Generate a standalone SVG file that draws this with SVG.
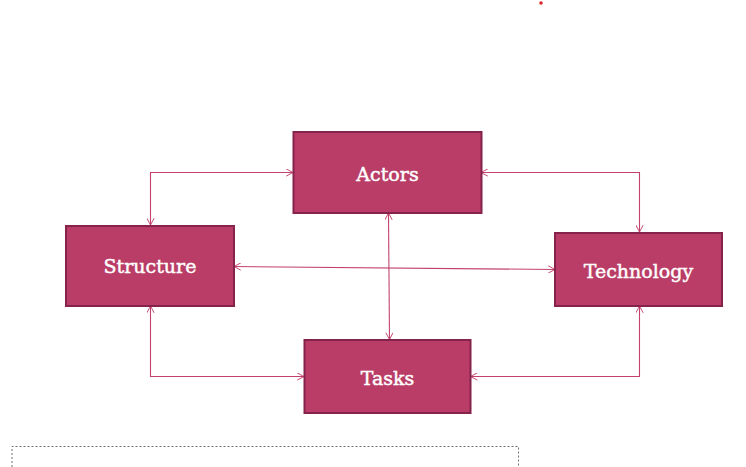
<svg xmlns="http://www.w3.org/2000/svg" width="746" height="467" viewBox="0 0 746 467">
<defs>
<marker id="arr" viewBox="0 0 10 10" refX="9.5" refY="5" markerWidth="8" markerHeight="8" markerUnits="userSpaceOnUse" orient="auto-start-reverse">
<path d="M1,0.5 L9.5,5 L1,9.5" fill="none" stroke="#C2426D" stroke-width="1.2"/>
</marker>
<style>
.box{fill:#B93D66;stroke:#85234A;stroke-width:2}
.lbl{font-family:"DejaVu Serif","Liberation Serif",serif;font-size:19px;fill:#FFFFFF;stroke:#FFFFFF;stroke-width:0.45;text-anchor:middle}
.con{fill:none;stroke:#C2426D;stroke-width:1.1;marker-start:url(#arr);marker-end:url(#arr)}
</style>
</defs>
<rect width="746" height="467" fill="#FFFFFF"/>
<circle cx="541" cy="3" r="1.8" fill="#E0262B"/>
<g id="connectors">
<path class="con" d="M150.5,225 L150.5,172.5 L293,172.5"/>
<path class="con" d="M481,172.5 L639.5,172.5 L639.5,232"/>
<path class="con" d="M234,266.5 L555,269.5"/>
<path class="con" d="M388.5,213 L389.5,339.5"/>
<path class="con" d="M150.5,306 L150.5,376.5 L304,376.5"/>
<path class="con" d="M639.5,306 L639.5,376.5 L470.5,376.5"/>
</g>
<g id="actors">
<rect class="box" x="293.5" y="132" width="188" height="81"/>
<text class="lbl" x="387.5" y="181">Actors</text>
</g>
<g id="structure">
<rect class="box" x="66" y="226" width="168" height="80"/>
<text class="lbl" x="150" y="273">Structure</text>
</g>
<g id="technology">
<rect class="box" x="555" y="233" width="167" height="73"/>
<text class="lbl" x="638.5" y="278">Technology</text>
</g>
<g id="tasks">
<rect class="box" x="304.5" y="340" width="166" height="73"/>
<text class="lbl" x="387.5" y="385">Tasks</text>
</g>
<path d="M12,467 L12,446.5 L518.5,446.5 L518.5,467" fill="none" stroke="#6E6E6E" stroke-width="1" stroke-dasharray="2,2"/>
</svg>
